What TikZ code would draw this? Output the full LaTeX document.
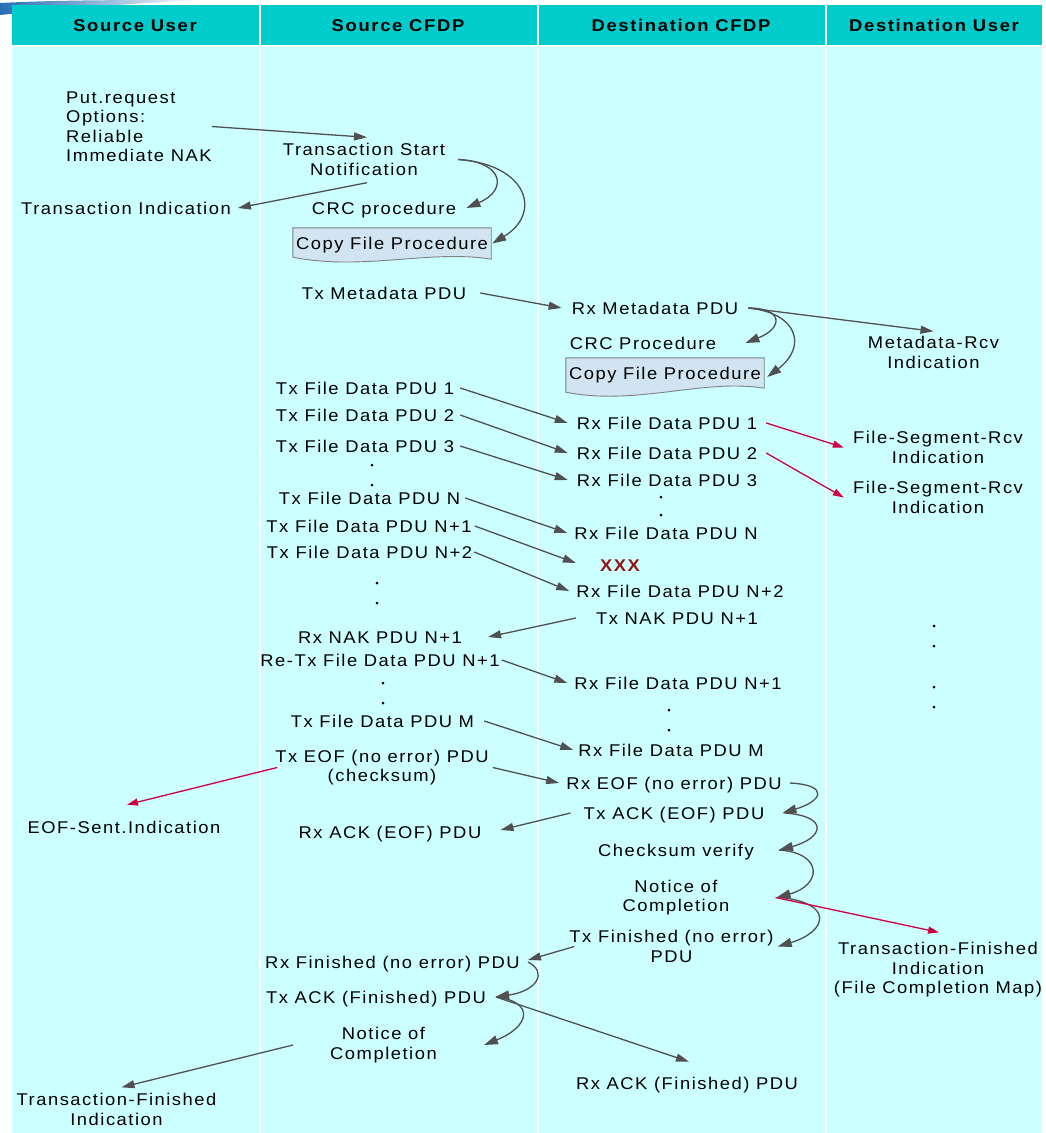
\documentclass[tikz,border=0pt]{standalone}
\usepackage{fontspec}
\setmainfont{Liberation Sans}
\newfontfamily\labfont[LetterSpace=9,FakeStretch=1.08]{Liberation Sans}
\newfontfamily\hdrfont[LetterSpace=10,FakeStretch=1.08]{Liberation Sans}
\usetikzlibrary{arrows.meta}

\definecolor{headteal}{RGB}{0,204,204}
\definecolor{lanecyan}{RGB}{204,255,255}
\definecolor{arrowgray}{RGB}{80,80,80}
\definecolor{sigred}{RGB}{204,0,68}
\definecolor{lossred}{RGB}{150,20,20}
\definecolor{procfill}{RGB}{208,228,242}
\definecolor{procline}{RGB}{128,128,128}
\definecolor{swooshblue}{RGB}{40,110,180}

\pgfdeclarelayer{lanes}
\pgfdeclarelayer{background}
\pgfsetlayers{lanes,background,main}

\tikzset{
  lbl/.style={font=\labfont\fontsize{17}{19.5}\selectfont, inner sep=0pt, text=black},
  one/.style={lbl, text height=12.2pt, text depth=0pt},
  multi/.style={lbl, align=center},
  hdr/.style={font=\hdrfont\bfseries\fontsize{17}{19}\selectfont, inner sep=0pt,
              text height=12.2pt, text depth=0pt},
  proc/.style={one, minimum width=198pt},
  procbox/.style={fill=procfill, draw=procline, line width=0.9pt},
  msg/.style={draw=arrowgray, line width=1.3pt, -{Triangle[length=13pt,width=8pt]}},
  selfarr/.style={draw=arrowgray, line width=1.3pt, -{Triangle[length=14pt,width=9pt]}},
  ind/.style={draw=sigred, line width=1.3pt, -{Triangle[length=11pt,width=7pt]}},
  dot/.style={fill=black},
}

\begin{document}
\begin{tikzpicture}[x=1pt,y=-1pt]
\useasboundingbox (0,0) rectangle (1046,1133);

% lanes and header band
\begin{pgfonlayer}{lanes}
  \fill[white] (0,0) rectangle (1046,1133);
  \shade[left color=swooshblue, right color=white]
    (0,3) .. controls (60,0) and (120,0) .. (200,0)
          .. controls (120,4) and (50,10) .. (0,15) -- cycle;
  \fill[headteal] (12,5) rectangle (1042,45);
  \fill[lanecyan] (12,47) rectangle (1042,1133);
  \foreach \x in {260,538,826}
    \draw[white, line width=1.5pt] (\x,5) -- (\x,1133);
\end{pgfonlayer}

% column headers
\node[hdr] (hsu) at (135,25) {Source User};
\node[hdr] (hsc) at (398,25) {Source CFDP};
\node[hdr] (hdc) at (681,25) {Destination CFDP};
\node[hdr] (hdu) at (934,25) {Destination User};

% source user
\node[lbl, align=left, anchor=west] (put) at (66,126.5)
  {Put.request\\Options:\\Reliable\\Immediate NAK};
\node[one] (ti) at (126,208) {Transaction Indication};
\node[one] (eofsent) at (124,827) {EOF-Sent.Indication};
\node[multi] (tfin1) at (116.5,1109.5) {Transaction-Finished\\Indication};

% source CFDP
\node[multi] (ts) at (364,159.5) {Transaction Start\\Notification};
\node[one] (crc1) at (384,208) {CRC procedure};
\node[proc, minimum height=31pt] (cf1) at (392,243.5) {Copy File Procedure};
\node[one] (txmd) at (384,293) {Tx Metadata PDU};
\node[one] (txfd1) at (365,388) {Tx File Data PDU 1};
\node[one] (txfd2) at (365,415) {Tx File Data PDU 2};
\node[one] (txfd3) at (365,446) {Tx File Data PDU 3};
\node[one] (txfdn) at (369.5,498) {Tx File Data PDU N};
\node[one] (txfdn1) at (369,526) {Tx File Data PDU N+1};
\node[one] (txfdn2) at (369.5,552) {Tx File Data PDU N+2};
\node[one] (rxnak) at (380,637) {Rx NAK PDU N+1};
\node[one] (retx) at (380,660) {Re-Tx File Data PDU N+1};
\node[one] (txfdm) at (382.5,721) {Tx File Data PDU M};
\node[multi] (txeof) at (382,767.5) {Tx EOF (no error) PDU\\(checksum)};
\node[one] (rxackeof) at (390,832) {Rx ACK (EOF) PDU};
\node[one] (rxfin) at (392.5,962) {Rx Finished (no error) PDU};
\node[one] (txackfin) at (376,997) {Tx ACK (Finished) PDU};
\node[multi] (noc1) at (383.5,1045) {Notice of\\Completion};

\fill[dot] (372,465) circle (1.5) (372,485) circle (1.5);
\fill[dot] (377,583) circle (1.5) (377,603) circle (1.5);
\fill[dot] (383,683) circle (1.5) (383,703) circle (1.5);

% destination CFDP
\node[one] (rxmd) at (655,308) {Rx Metadata PDU};
\node[one] (crc2) at (643,343) {CRC Procedure};
\node[proc, minimum height=30pt] (cf2) at (665,373) {Copy File Procedure};
\node[one] (rxfd1) at (667,423) {Rx File Data PDU 1};
\node[one] (rxfd2) at (667,453) {Rx File Data PDU 2};
\node[one] (rxfd3) at (667,480) {Rx File Data PDU 3};
\node[one] (rxfdn) at (666,533) {Rx File Data PDU N};
\node[one, font=\labfont\bfseries\fontsize{17}{19.5}\selectfont, text=lossred] (xxx) at (620,565) {XXX};
\node[one] (rxfdn2) at (680,591) {Rx File Data PDU N+2};
\node[one] (txnak) at (677,618) {Tx NAK PDU N+1};
\node[one] (rxfdn1) at (678,683) {Rx File Data PDU N+1};
\node[one] (rxfdm) at (671,750) {Rx File Data PDU M};
\node[one] (rxeof) at (674,783) {Rx EOF (no error) PDU};
\node[one] (txackeof) at (674,813) {Tx ACK (EOF) PDU};
\node[one] (cksum) at (676,850) {Checksum verify};
\node[multi] (noc2) at (676,897.5) {Notice of\\Completion};
\node[multi] (txfin) at (671.5,946.5) {Tx Finished (no error)\\PDU};
\node[one] (rxackfin) at (687,1083) {Rx ACK (Finished) PDU};

\fill[dot] (661,497) circle (1.5) (661,515) circle (1.5);
\fill[dot] (669,710) circle (1.5) (669,730) circle (1.5);

% destination user
\node[multi] (mdrcv) at (933.5,352.5) {Metadata-Rcv\\Indication};
\node[multi] (fsr1) at (938,447.5) {File-Segment-Rcv\\Indication};
\node[multi] (fsr2) at (938,497.5) {File-Segment-Rcv\\Indication};
\node[multi] (tfin2) at (938,970) {Transaction-Finished\\Indication\\(File Completion Map)};

\fill[dot] (934,626) circle (1.5) (934,646) circle (1.5)
           (934,687) circle (1.5) (934,707) circle (1.5);

% procedure boxes with a wavy lower edge
\begin{pgfonlayer}{background}
  \draw[procbox] (cf1.north west) -- (cf1.north east) -- (cf1.south east)
    .. controls +(-60,-10) and +(70,14) .. ([yshift=2pt]cf1.south west) -- cycle;
  \draw[procbox] (cf2.north west) -- (cf2.north east) -- (cf2.south east)
    .. controls +(-60,-10) and +(70,14) .. ([yshift=-4pt]cf2.south west) -- cycle;
\end{pgfonlayer}

% transaction start
\draw[msg] (put.east) -- ([xshift=3pt,yshift=6pt]ts.north);
\draw[msg] ([xshift=3pt,yshift=-7pt]ts.south) -- ([xshift=7pt]ti.east);
\draw[selfarr] ([xshift=13pt]ts.east) .. controls +(45,2) and +(42,-18) .. ([xshift=10pt]crc1.east);
\draw[selfarr] ([xshift=13pt]ts.east) .. controls +(70,5) and +(50,-30) .. ([xshift=1pt]cf1.east);

% metadata
\draw[msg] ([xshift=14pt]txmd.east) -- ([xshift=-10pt]rxmd.west);
\draw[selfarr] ([xshift=10pt]rxmd.east) .. controls +(35,0) and +(38,-15) .. ([xshift=29pt]crc2.east);
\draw[selfarr] ([xshift=10pt]rxmd.east) .. controls +(50,5) and +(40,-30) .. ([xshift=3pt,yshift=-4pt]cf2.east);
\draw[msg] ([xshift=10pt]rxmd.east) -- ([yshift=5pt]mdrcv.north);

% file data
\draw[msg] ([xshift=6pt]txfd1.east) -- ([xshift=-9pt]rxfd1.west);
\draw[msg] ([xshift=6pt]txfd2.east) -- ([xshift=-9pt]rxfd2.west);
\draw[msg] ([xshift=6pt]txfd3.east) -- ([xshift=-9pt]rxfd3.west);
\draw[msg] ([xshift=5pt]txfdn.east) -- ([xshift=-7pt]rxfdn.west);
\draw[msg] ([xshift=3pt]txfdn1.east) -- ([xshift=-24pt,yshift=2pt]xxx.west);
\draw[msg] ([xshift=2pt]txfdn2.east) -- ([xshift=-7pt]rxfdn2.west);
\draw[ind] ([xshift=9pt]rxfd1.east) -- ([xshift=-9pt]fsr1.west);
\draw[ind] ([xshift=9pt]rxfd2.east) -- ([xshift=-9pt]fsr2.west);

% NAK and retransmission
\draw[msg] ([xshift=-20pt]txnak.west) -- ([xshift=26pt]rxnak.east);
\draw[msg] ([xshift=2pt]retx.east) -- ([xshift=-7pt]rxfdn1.west);
\draw[msg] ([xshift=10pt]txfdm.east) -- ([xshift=-5pt]rxfdm.west);

% end of file
\draw[msg] ([xshift=4pt]txeof.east) -- ([xshift=-7pt]rxeof.west);
\draw[ind] ([xshift=2pt]txeof.west) -- ([xshift=3pt,yshift=16pt]eofsent.north);
\draw[msg] ([xshift=-13pt]txackeof.west) -- ([xshift=19pt,yshift=2pt]rxackeof.east);
\draw[selfarr] ([xshift=8pt]rxeof.east) .. controls +(40,2) and +(40,-12) .. ([xshift=18pt]txackeof.east);
\draw[selfarr] ([xshift=20pt]txackeof.east) .. controls +(45,3) and +(45,-12) .. ([xshift=25pt]cksum.east);
\draw[selfarr] ([xshift=25pt]cksum.east) .. controls +(45,3) and +(45,-12) .. ([xshift=47pt]noc2.east);
\draw[selfarr] ([xshift=50pt]noc2.east) .. controls +(55,5) and +(50,-15) .. ([xshift=4pt]txfin.east);
\draw[ind] ([xshift=46pt]noc2.east) -- ([xshift=1pt,yshift=10pt]tfin2.north);

% finished
\draw[msg] ([xshift=5pt]txfin.west) -- ([xshift=8pt,yshift=2pt]rxfin.east);
\draw[selfarr] ([xshift=8pt]rxfin.east) .. controls +(20,10) and +(42,-6) .. ([xshift=9pt]txackfin.east);
\draw[selfarr] ([xshift=10pt]txackfin.east) .. controls +(40,5) and +(45,-18) .. ([xshift=47pt]noc1.east);
\draw[msg] ([xshift=10pt]txackfin.east) -- ([xshift=2pt,yshift=15pt]rxackfin.north);
\draw[msg] ([xshift=-37pt]noc1.west) -- ([xshift=5pt,yshift=6pt]tfin1.north);

\end{tikzpicture}
\end{document}
